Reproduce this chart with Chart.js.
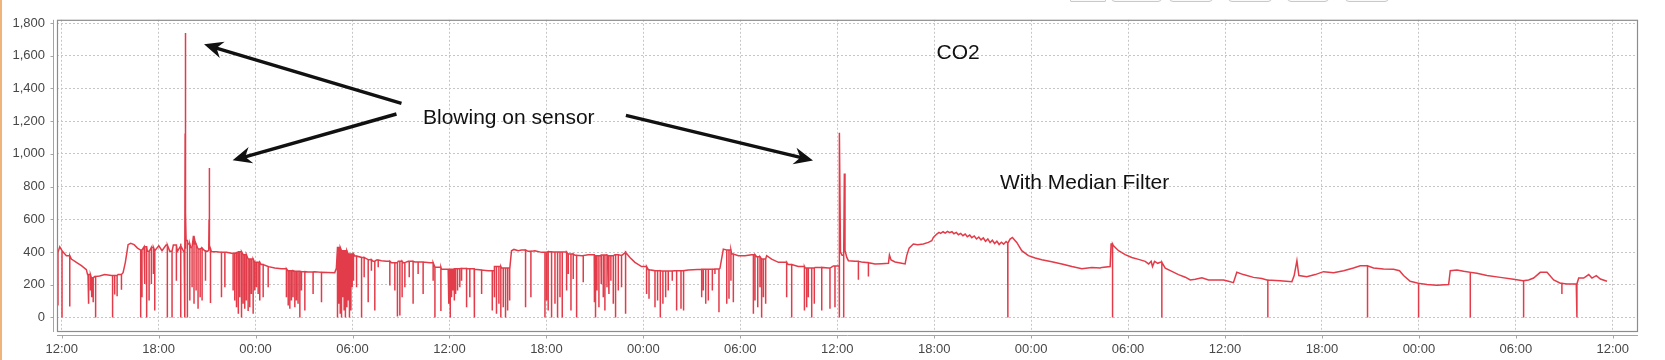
<!DOCTYPE html>
<html>
<head>
<meta charset="utf-8">
<title>CO2</title>
<script src="https://cdn.jsdelivr.net/npm/chart.js@4.4.1/dist/chart.umd.min.js"></script>
<style>
  html, body { margin: 0; padding: 0; background: #fff; overflow: hidden; }
  #wrap { position: relative; width: 1665px; height: 360px; }
  #edge { position: absolute; left: 0; top: 0; width: 2px; height: 360px; background: #f0b47a; }
  .btn { position: absolute; top: -20px; height: 22px; border: 1px solid #c9c9c9; border-radius: 4px; background: #fafafa; box-sizing: border-box; }
</style>
</head>
<body>
<div id="wrap">
  <canvas id="co2Chart" width="1665" height="360"></canvas>
  <div id="edge"></div>
  <div class="btn" style="left:1070px;width:36px;border-radius:1px"></div>
  <div class="btn" style="left:1111px;width:51px"></div>
  <div class="btn" style="left:1169px;width:44px"></div>
  <div class="btn" style="left:1228px;width:44px"></div>
  <div class="btn" style="left:1287px;width:42px"></div>
  <div class="btn" style="left:1345px;width:44px"></div>
</div>
<script>
// hours since 12:00 on day 1
const traceHours = [
  -0.29, -0.12, 0.02, 0.29, 0.60, 0.91, 1.22, 1.53, 1.60, 1.84, 2.04, 2.35, 2.66, 3.08, 3.49, 3.80, 3.94,
  4.11, 4.27, 4.48, 4.69, 4.89, 5.10, 5.30, 5.55, 5.76, 6.01, 6.21, 6.46, 6.69, 6.91, 7.16, 7.37, 7.58,
  7.64, 7.65, 7.66, 7.68, 7.70, 7.82, 7.99, 8.15, 8.28, 8.44, 8.65, 8.85, 9.02, 9.10, 9.12, 9.13, 9.14, 9.16,
  9.27, 9.58, 9.89, 10.20, 10.51, 10.82, 10.96, 11.23, 11.54, 11.95, 12.36, 12.78, 13.19, 13.60, 14.00,
  14.43, 14.84, 15.25, 15.66, 16.08, 16.90, 17.00, 17.07, 17.32, 17.73, 18.14, 18.56, 18.97, 19.28, 19.48,
  19.79, 20.10, 20.41, 20.83, 21.14, 21.45, 21.86, 22.27, 22.79, 23.10, 23.51, 23.92, 24.33, 24.75, 25.16,
  25.57, 25.99, 26.40, 26.60, 26.81, 27.22, 27.74, 27.84, 27.99, 28.26, 28.46, 28.87, 29.29, 29.70, 30.11,
  30.53, 30.94, 31.35, 31.77, 32.18, 32.59, 33.00, 33.42, 33.83, 34.24, 34.65, 34.90, 35.17, 35.48, 35.89,
  36.31, 36.72, 37.13, 37.96, 38.78, 39.61, 40.43, 40.74, 40.95, 41.16, 41.47, 41.88, 42.29, 42.70, 43.01,
  43.32, 43.63, 43.94, 44.36, 44.97, 45.59, 46.01, 46.63, 47.45, 47.76, 48.05, 48.16, 48.20, 48.30, 48.44,
  48.48, 48.59, 48.69, 49.10, 49.50, 49.93, 50.34, 50.75, 51.17, 51.23, 51.33, 51.58, 51.99, 52.20, 52.30,
  52.45, 52.71, 52.98, 53.33, 53.64, 53.85, 53.95, 54.16, 54.30, 54.40, 54.55, 54.68, 54.82, 54.95, 55.10,
  55.22, 55.37, 55.50, 55.64, 55.78, 55.92, 56.05, 56.20, 56.33, 56.48, 56.62, 56.76, 56.90, 57.04, 57.18,
  57.32, 57.46, 57.60, 57.74, 57.88, 58.02, 58.16, 58.30, 58.45, 58.55, 58.70, 58.84, 59.11, 59.42, 59.83,
  60.25, 60.66, 61.28, 61.90, 62.52, 63.14, 63.76, 64.27, 64.38, 64.89, 64.95, 65.10, 65.41, 65.82, 66.23,
  66.65, 67.06, 67.27, 67.43, 67.51, 67.64, 67.84, 67.99, 68.30, 68.71, 69.12, 69.54, 69.85, 70.16, 70.57,
  70.98, 71.39, 71.90, 72.22, 72.52, 72.73, 73.14, 73.76, 74.28, 74.59, 75.41, 76.14, 76.28, 76.45, 76.57,
  77.06, 77.58, 78.10, 78.72, 79.34, 79.95, 80.37, 80.82, 81.19, 81.81, 82.43, 82.80, 83.05, 83.46, 83.98,
  84.50, 85.11, 85.84, 85.94, 86.35, 86.77, 87.18, 87.59, 88.21, 89.04, 89.86, 90.44, 90.79, 91.10, 91.51,
  91.93, 92.34, 92.75, 93.16, 93.74, 93.89, 94.20, 94.51, 94.71, 94.98, 95.23, 95.64
];
const tracePpm = [
  398, 432, 408, 378, 357, 337, 317, 292, 262, 242, 250, 254, 262, 256, 262, 274, 337,
  445, 453, 445, 424, 412, 432, 404, 428, 408, 438, 408, 443, 404, 443, 404, 438, 398,
  1125, 420, 1740, 640, 470, 449, 428, 495, 449, 418, 424, 408, 404, 410, 600, 420, 914, 420,
  402, 402, 398, 398, 392, 396, 402, 384, 357, 337, 323, 311, 302, 298, 286,
  282, 280, 278, 280, 276, 274, 300, 428, 408, 388, 376, 367, 353, 343, 351,
  347, 343, 335, 343, 335, 343, 339, 339, 335, 307, 294, 294, 298, 300, 298,
  294, 290, 286, 286, 311, 302, 294, 408, 416, 408, 412, 404, 408, 398, 402,
  400, 400, 388, 380, 378, 384, 378, 382, 378, 384, 378, 398, 367, 337, 311,
  292, 286, 284, 286, 290, 294, 296, 300, 418, 412, 388, 378, 378, 384, 371,
  357, 378, 357, 337, 323, 311, 302, 306, 302, 315, 315, 1130, 400, 380, 880,
  410, 367, 347, 343, 339, 335, 327, 329, 331, 382, 351, 339, 331, 327, 378,
  424, 449, 445, 449, 459, 469, 489, 510, 520, 514, 524, 516, 526, 518, 524,
  512, 520, 506, 514, 500, 510, 494, 504, 488, 498, 480, 492, 474, 486, 466,
  480, 458, 472, 452, 466, 446, 460, 448, 464, 455, 479, 489, 459, 408, 378,
  363, 353, 341, 327, 311, 298, 306, 302, 306, 311, 449, 438, 408, 384, 367,
  355, 343, 327, 343, 311, 343, 331, 337, 302, 282, 262, 246, 229, 233, 242,
  229, 229, 229, 221, 213, 276, 262, 245, 238, 229, 225, 219, 256, 347, 256,
  249, 262, 280, 274, 286, 302, 316, 316, 302, 296, 294, 286, 256, 221, 209,
  201, 197, 201, 286, 290, 282, 276, 270, 256, 245, 233, 225, 229, 241, 276,
  276, 229, 209, 205, 205, 241, 241, 262, 241, 256, 235, 221
];
// short sensor dropouts: time and lowest reading
const dipHours = [
  -0.23, 0.02, 0.50, 1.63, 1.69, 1.78, 1.86, 1.95, 2.10, 3.15, 3.28, 3.43, 3.70,
  4.89, 4.97, 5.14, 5.26, 5.41, 5.55, 5.68, 5.76, 6.54, 6.83, 7.10, 7.37, 7.62,
  7.78, 7.93, 8.07, 8.19, 8.32, 8.44, 8.57, 8.69, 8.90, 9.21, 9.89, 10.10,
  10.61, 10.71, 10.82, 10.92, 11.02, 11.13, 11.23, 11.33, 11.43, 11.54, 11.64, 11.74, 11.85, 11.95,
  12.05, 12.16, 12.26, 12.47, 12.78,
  13.91, 14.02, 14.12, 14.22, 14.32, 14.43, 14.53, 14.63, 14.74, 14.84, 15.05, 15.56,
  16.08, 17.07, 17.15, 17.24, 17.32, 17.40, 17.48, 17.56, 17.65, 17.73, 17.81, 17.90, 17.98, 18.06,
  18.25, 18.56, 18.72, 18.97, 19.17, 19.38, 19.59, 20.31, 20.62, 20.78, 20.93, 21.07, 21.24, 21.51,
  21.75, 22.06, 22.37, 22.99, 23.10, 23.47, 23.96, 24.05, 24.13, 24.21, 24.29, 24.38, 24.50, 24.64,
  24.75, 25.06, 25.26, 25.53, 25.99, 26.65, 26.77, 26.91, 27.06, 27.18, 27.33, 27.47, 27.60, 27.72,
  28.71, 29.04, 29.91, 30.01, 30.11, 30.32, 30.53, 30.69, 30.84, 30.98, 31.25, 31.35, 31.52, 31.66, 31.87,
  32.28, 32.96, 33.04, 33.13, 33.25, 33.38, 33.52, 33.62, 33.75, 33.87, 33.99, 34.14, 34.28, 34.45,
  34.65, 34.90, 36.20, 36.35, 36.72, 36.88, 37.05, 37.21, 37.38, 37.54, 37.79, 38.06, 38.33, 38.49,
  39.61, 39.71, 39.86, 40.02, 40.27, 40.43, 40.68, 41.16, 41.30, 41.42, 41.57, 42.81, 42.91, 43.08,
  43.22, 43.32, 43.43, 43.57, 44.87, 45.18, 45.97, 46.11, 46.21, 46.42, 46.58, 47.04, 47.55, 47.86,
  48.12, 48.40, 49.31, 49.93, 58.56, 65.04, 68.09, 74.65, 80.82, 83.98, 87.18, 90.48, 92.85, 93.78
];
const dipPpm = [
  73, 0, 67, 83, 185, 164, 124, 93, 0, 0, 140, 130, 170,
  0, 124, 205, 0, 104, 205, 266, 43, 0, 0, 225, 0, 0,
  0, 104, 185, 83, 164, 53, 124, 104, 225, 88, 124, 185,
  164, 104, 63, 22, 124, 0, 83, 53, 104, 39, 63, 144, 22, 164,
  185, 144, 104, 124, 185,
  124, 73, 53, 104, 124, 63, 104, 83, 0, 164, 43, 144,
  93, 0, 83, 22, 0, 124, 43, 0, 63, 104, 0, 43, 185, 225,
  185, 0, 246, 93, 286, 43, 307, 195, 164, 6, 12, 124, 185, 246,
  83, 266, 144, 225, 0, 39, 83, 0, 124, 164, 104, 144, 164, 185,
  225, 63, 124, 0, 144, 43, 124, 22, 83, 0, 63, 0, 43, 104,
  63, 124, 0, 104, 43, 0, 83, 0, 124, 0, 164, 266, 43, 235, 0,
  215, 93, 0, 164, 63, 205, 124, 43, 185, 144, 225, 83, 0, 164,
  185, 22, 144, 114, 63, 104, 0, 83, 124, 164, 225, 43, 53, 43,
  124, 164, 83, 104, 164, 266, 32, 83, 114, 225, 93, 22, 104, 63,
  185, 0, 124, 83, 124, 0, 43, 63, 124, 0, 83, 43, 53, 63,
  0, 0, 231, 250, 0, 0, 0, 0, 0, 0, 0, 0, 144, 0
];
const xTickHours = [0, 6, 12, 18, 24, 30, 36, 42, 48, 54, 60, 66, 72, 78, 84, 90, 96];
const xTickLabels = ['12:00', '18:00', '00:00', '06:00', '12:00', '18:00', '00:00', '06:00', '12:00',
  '18:00', '00:00', '06:00', '12:00', '18:00', '00:00', '06:00', '12:00'];
const yTicks = [0, 200, 400, 600, 800, 1000, 1200, 1400, 1600, 1800];

// annotations, in chart units (hours, ppm)
const notes = [
  { text: 'CO2', h: 54.15, v: 1580 },
  { text: 'Blowing on sensor', h: 22.36, v: 1185 },
  { text: 'With Median Filter', h: 58.07, v: 785 }
];
const arrows = [
  { from: [21.03, 1309], to: [8.81, 1670] },
  { from: [20.72, 1244], to: [10.58, 961] },
  { from: [34.92, 1236], to: [46.50, 960] }
];

// build the line: trace points plus a vertical drop for each dropout
const points = traceHours.map((h, i) => ({ x: h, y: tracePpm[i] }));
dipHours.forEach((h, i) => {
  let top = tracePpm[0];
  for (let k = 0; k < traceHours.length && traceHours[k] <= h; k++) top = tracePpm[k];
  points.push({ x: h, y: top }, { x: h, y: dipPpm[i] }, { x: h, y: top });
});
points.sort((a, b) => a.x - b.x);

const frame = {
  id: "frame",
  afterDatasetsDraw(chart) {
    const { ctx, chartArea: a, scales } = chart;
    ctx.save();
    // plot outline
    ctx.strokeStyle = "#8c8c8c";
    ctx.lineWidth = 1.2;
    ctx.strokeRect(a.left + 0.5, a.top + 0.5, a.right - a.left - 1, a.bottom - a.top - 1);
    // detached axis lines with small ticks
    ctx.strokeStyle = "#a4a4a4";
    ctx.lineWidth = 1;
    ctx.beginPath();
    ctx.moveTo(a.left - 3.5, a.top);
    ctx.lineTo(a.left - 3.5, a.bottom);
    yTicks.forEach(v => {
      const y = Math.round(scales.y.getPixelForValue(v)) + 0.5;
      ctx.moveTo(a.left - 6.5, y);
      ctx.lineTo(a.left - 3.5, y);
    });
    ctx.moveTo(a.left, a.bottom + 3.5);
    ctx.lineTo(a.right, a.bottom + 3.5);
    xTickHours.forEach(h => {
      const x = Math.round(scales.x.getPixelForValue(h)) + 0.5;
      ctx.moveTo(x, a.bottom + 3.5);
      ctx.lineTo(x, a.bottom + 6.5);
    });
    ctx.stroke();

    // notes and arrows
    ctx.fillStyle = "#111";
    ctx.strokeStyle = "#111";
    ctx.font = "21px 'Liberation Sans', Arial, sans-serif";
    ctx.textBaseline = "alphabetic";
    notes.forEach(n => {
      ctx.fillText(n.text, scales.x.getPixelForValue(n.h), scales.y.getPixelForValue(n.v));
    });
    ctx.lineWidth = 3.4;
    arrows.forEach(ar => {
      const x1 = scales.x.getPixelForValue(ar.from[0]), y1 = scales.y.getPixelForValue(ar.from[1]);
      const x2 = scales.x.getPixelForValue(ar.to[0]), y2 = scales.y.getPixelForValue(ar.to[1]);
      const ang = Math.atan2(y2 - y1, x2 - x1);
      ctx.beginPath();
      ctx.moveTo(x1, y1);
      ctx.lineTo(x2 - Math.cos(ang) * 12, y2 - Math.sin(ang) * 12);
      ctx.stroke();
      ctx.save();
      ctx.translate(x2, y2);
      ctx.rotate(ang);
      ctx.beginPath();
      ctx.moveTo(0, 0);
      ctx.lineTo(-19, -8.5);
      ctx.lineTo(-13, 0);
      ctx.lineTo(-19, 8.5);
      ctx.closePath();
      ctx.fill();
      ctx.restore();
    });
    ctx.restore();
  }
};

const tickFont = { family: "'Liberation Sans', Arial, sans-serif", size: 13 };
new Chart(document.getElementById("co2Chart").getContext("2d"), {
  type: "line",
  data: {
    datasets: [{
      data: points,
      borderColor: "#e23b49",
      borderWidth: 1.5,
      pointRadius: 0,
      tension: 0,
      fill: false
    }]
  },
  options: {
    responsive: false,
    animation: false,
    parsing: false,
    events: [],
    layout: { padding: { top: 18, right: 27, left: 0, bottom: 0 } },
    plugins: { legend: { display: false }, tooltip: { enabled: false } },
    scales: {
      x: {
        type: "linear",
        min: -0.29,
        max: 97.56,
        afterBuildTicks: s => { s.ticks = xTickHours.map(v => ({ value: v })); },
        afterFit: s => { s.height = 28; },
        grid: { color: "#c6c6c6", lineWidth: 1, drawTicks: false },
        border: { display: false, dash: [2, 2] },
        ticks: {
          padding: 10,
          color: "#474747",
          font: tickFont,
          maxRotation: 0,
          autoSkip: false,
          callback: (v, i) => xTickLabels[i]
        }
      },
      y: {
        min: -89,
        max: 1820,
        afterBuildTicks: s => { s.ticks = yTicks.map(v => ({ value: v })); },
        afterFit: s => { s.width = 57; },
        grid: { color: "#c6c6c6", lineWidth: 1, drawTicks: false },
        border: { display: false, dash: [2, 2] },
        ticks: {
          padding: 12,
          color: "#474747",
          font: tickFont,
          callback: v => v.toLocaleString("en-US")
        }
      }
    }
  },
  plugins: [frame]
});
</script>
</body>
</html>
